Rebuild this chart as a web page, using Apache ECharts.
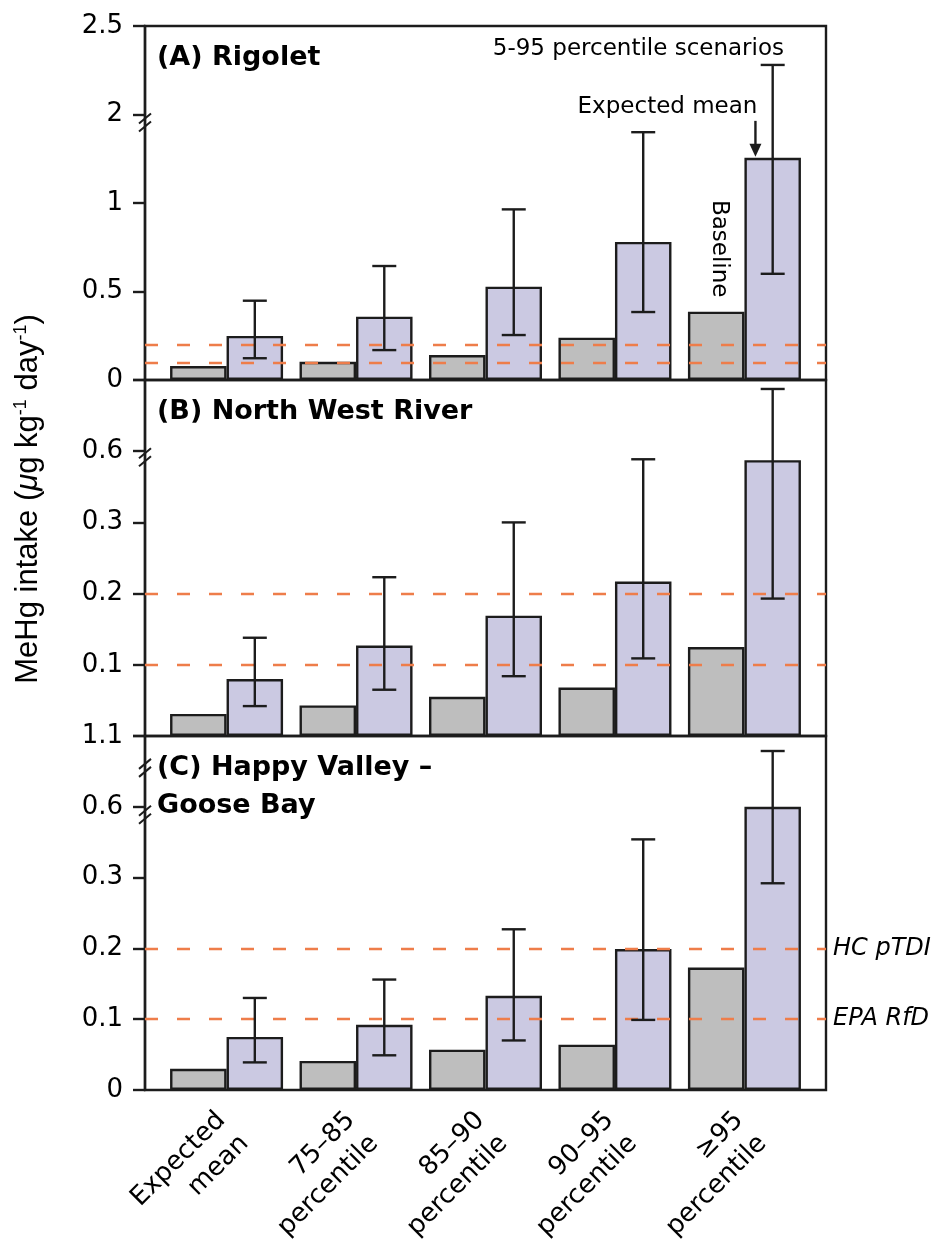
<!DOCTYPE html>
<html>
<head>
<meta charset="utf-8">
<script src="https://cdn.jsdelivr.net/npm/echarts@6/dist/echarts.min.js"></script>
<style>
  html, body { margin: 0; padding: 0; background: #fff; }
  #chart { width: 942px; height: 1252px; }
</style>
</head>
<body>
<div id="chart"></div>
<script>
// scenario groups along x
const categories = ['Expected\nmean', '75–85\npercentile', '85–90\npercentile', '90–95\npercentile', '≥95\npercentile'];
const groupPos = [1, 2, 3, 4, 5];

// broken y axes: real values at equally spaced ticks
const breaksA = [0, 0.5, 1, 2, 2.5];
const breaksBC = [0, 0.1, 0.2, 0.3, 0.6, 1.1];
const ticksA = ['0', '0.5', '1', '2', '2.5'];
const ticksB = ['', '0.1', '0.2', '0.3', '0.6', ''];
const ticksC = ['0', '0.1', '0.2', '0.3', '0.6', '1.1'];

// (A) Rigolet
const baselineA = [0.079, 0.103, 0.141, 0.239, 0.386];
const meanA = [0.249, 0.358, 0.527, 0.78, 1.51];
const lowA = [0.123, 0.169, 0.254, 0.384, 0.60];
const highA = [0.448, 0.644, 0.964, 1.80, 2.28];

// (B) North West River
const baselineB = [0.031, 0.043, 0.055, 0.068, 0.125];
const meanB = [0.080, 0.127, 0.169, 0.217, 0.562];
const lowB = [0.042, 0.065, 0.084, 0.109, 0.193];
const highB = [0.138, 0.223, 0.30, 0.566, 1.037];

// (C) Happy Valley - Goose Bay
const baselineC = [0.030, 0.041, 0.057, 0.064, 0.173];
const meanC = [0.075, 0.092, 0.133, 0.199, 0.60];
const lowC = [0.039, 0.049, 0.070, 0.099, 0.292];
const highC = [0.130, 0.156, 0.227, 0.462, 0.994];

const thresholds = [0.1, 0.2];
const thresholdNames = ['EPA RfD', 'HC pTDI'];

const FONT = 'DejaVu Sans';
const BAR_W = 56.5;
const INK = '#1c1c1c';
const LW = 2.4;

function toAxis(v, breaks) {
  for (let i = 0; i < breaks.length - 1; i++) {
    if (v <= breaks[i + 1]) return i + (v - breaks[i]) / (breaks[i + 1] - breaks[i]);
  }
  return breaks.length - 1;
}

const panels = [
  { title: '(A) Rigolet', breaks: breaksA, ticks: ticksA, base: baselineA, mean: meanA, low: lowA, high: highA, top: 26, height: 354 },
  { title: '(B) North West River', breaks: breaksBC, ticks: ticksB, base: baselineB, mean: meanB, low: lowB, high: highB, top: 380, height: 356 },
  { title: '(C) Happy Valley –\nGoose Bay', breaks: breaksBC, ticks: ticksC, base: baselineC, mean: meanC, low: lowC, high: highC, top: 736, height: 354 }
];

const grid = [], xAxis = [], yAxis = [], series = [];

panels.forEach((p, i) => {
  const last = i === panels.length - 1;
  grid.push({
    left: 145, right: 116, top: p.top, height: p.height,
    show: true, borderColor: INK, borderWidth: LW, backgroundColor: 'transparent'
  });
  xAxis.push({
    gridIndex: i, type: 'value', min: 0.37, max: 5.63,
    axisLine: { show: false }, axisTick: { show: false }, splitLine: { show: false },
    axisLabel: {
      show: last,
      customValues: groupPos.map(g => g + 0.05),
      formatter: v => categories[Math.round(v) - 1] || '',
      rotate: 45, margin: 38, lineHeight: 33,
      fontFamily: FONT, fontSize: 26, color: '#000'
    }
  });
  yAxis.push({
    gridIndex: i, type: 'value', min: 0, max: p.breaks.length - 1, interval: 1,
    axisLine: { show: true, lineStyle: { color: INK, width: LW } },
    axisTick: { show: true, length: 12, lineStyle: { color: INK, width: LW } },
    splitLine: { show: false },
    axisLabel: {
      formatter: v => p.ticks[v] || '',
      margin: 22, fontFamily: FONT, fontSize: 26, color: '#000'
    }
  });
  series.push({
    type: 'bar', xAxisIndex: i, yAxisIndex: i, barWidth: BAR_W, barGap: '0%',
    data: groupPos.map((g, k) => [g, toAxis(p.base[k], p.breaks)]),
    itemStyle: { color: '#bebebe', borderColor: INK, borderWidth: LW },
    silent: true
  });
  series.push({
    type: 'bar', xAxisIndex: i, yAxisIndex: i, barWidth: BAR_W, barGap: '0%',
    data: groupPos.map((g, k) => [g, toAxis(p.mean[k], p.breaks)]),
    itemStyle: { color: '#cbc9e2', borderColor: INK, borderWidth: LW },
    silent: true,
    markLine: {
      silent: true, symbol: ['none', 'none'],
      lineStyle: { color: '#ee7d4a', width: 2.4, type: [13, 19] },
      label: {
        show: last, position: 'end', distance: 7,
        formatter: prm => thresholdNames[prm.dataIndex],
        fontFamily: FONT, fontSize: 24, fontStyle: 'italic', color: '#000'
      },
      data: thresholds.map(t => ({ yAxis: toAxis(t, p.breaks) }))
    }
  });
  series.push({
    type: 'custom', xAxisIndex: i, yAxisIndex: i, z: 5, silent: true,
    data: groupPos.map((g, k) => [g, toAxis(p.low[k], p.breaks), toAxis(p.high[k], p.breaks)]),
    encode: { x: 0, y: [1, 2] },
    renderItem: (params, api) => {
      const lo = api.coord([api.value(0), api.value(1)]);
      const hi = api.coord([api.value(0), api.value(2)]);
      const cx = lo[0] + BAR_W / 2;
      const st = { stroke: INK, lineWidth: LW };
      return {
        type: 'group',
        children: [
          { type: 'line', shape: { x1: cx, y1: hi[1], x2: cx, y2: lo[1] }, style: st },
          { type: 'line', shape: { x1: cx - 12, y1: hi[1], x2: cx + 12, y2: hi[1] }, style: st },
          { type: 'line', shape: { x1: cx - 12, y1: lo[1], x2: cx + 12, y2: lo[1] }, style: st }
        ]
      };
    }
  });
});

const chart = echarts.init(document.getElementById('chart'), null, { renderer: 'canvas' });
chart.setOption({
  animation: false,
  backgroundColor: '#fff',
  grid, xAxis, yAxis, series
});

// annotations placed from the axes
const graphic = [];
const axisX = 145;

function breakMark(gi, yVal, dy) {
  const y = chart.convertToPixel({ gridIndex: gi }, [1, yVal])[1] + dy;
  [-4, 4].forEach(o => {
    graphic.push({
      type: 'line', z: 20,
      shape: { x1: axisX - 6, y1: y + o + 5, x2: axisX + 6, y2: y + o - 5 },
      style: { stroke: INK, lineWidth: 2 }
    });
  });
}
breakMark(0, 3, 8);
breakMark(1, 4, 6);
breakMark(2, 4, 8);
breakMark(2, 4.55, 0);

panels.forEach((p, i) => {
  graphic.push({
    type: 'text', z: 20, x: 157, y: p.top + 13,
    style: {
      text: p.title, fontFamily: FONT, fontWeight: 'bold', fontSize: 27,
      lineHeight: 38, fill: '#000', align: 'left', verticalAlign: 'top'
    }
  });
});

const g5 = groupPos[4];
const meanTop = chart.convertToPixel({ gridIndex: 0 }, [g5, toAxis(meanA[4], breaksA)]);
const baseTop = chart.convertToPixel({ gridIndex: 0 }, [g5, toAxis(baselineA[4], breaksA)]);
const arrowX = meanTop[0] + 11;
graphic.push(
  {
    type: 'line', z: 20,
    shape: { x1: arrowX, y1: meanTop[1] - 37, x2: arrowX, y2: meanTop[1] - 10 },
    style: { stroke: INK, lineWidth: LW }
  },
  {
    type: 'polygon', z: 20,
    shape: { points: [[arrowX - 6, meanTop[1] - 14], [arrowX + 6, meanTop[1] - 14], [arrowX, meanTop[1] - 1]] },
    style: { fill: INK }
  },
  {
    type: 'text', z: 20, x: arrowX + 2, y: meanTop[1] - 51,
    style: { text: 'Expected mean', fontFamily: FONT, fontSize: 23, fill: '#000', align: 'right', verticalAlign: 'middle' }
  },
  {
    type: 'text', z: 20, x: 784, y: 49,
    style: { text: '5-95 percentile scenarios', fontFamily: FONT, fontSize: 23, fill: '#000', align: 'right', verticalAlign: 'middle' }
  },
  {
    type: 'text', z: 20, x: baseTop[0] - BAR_W / 2 + 3, y: baseTop[1] - 63, rotation: -Math.PI / 2,
    style: { text: 'Baseline', fontFamily: FONT, fontSize: 23, fill: '#000', align: 'center', verticalAlign: 'middle' }
  },
  {
    type: 'text', z: 20, x: 28, y: 499, rotation: Math.PI / 2,
    style: {
      text: '{n|MeHg intake (}{i|μ}{n|g kg}{s|-1}{n| day}{s|-1}{n|)}',
      align: 'center', verticalAlign: 'middle', fill: '#000',
      rich: {
        n: { fontFamily: 'Liberation Sans', fontSize: 31, fill: '#000' },
        i: { fontFamily: 'Liberation Sans', fontSize: 31, fontStyle: 'italic', fill: '#000' },
        s: { fontFamily: 'Liberation Sans', fontSize: 18, fill: '#000', padding: [0, 0, 14, 0] }
      }
    }
  }
);
chart.setOption({ graphic });

window.addEventListener('resize', () => chart.resize());
</script>
</body>
</html>
